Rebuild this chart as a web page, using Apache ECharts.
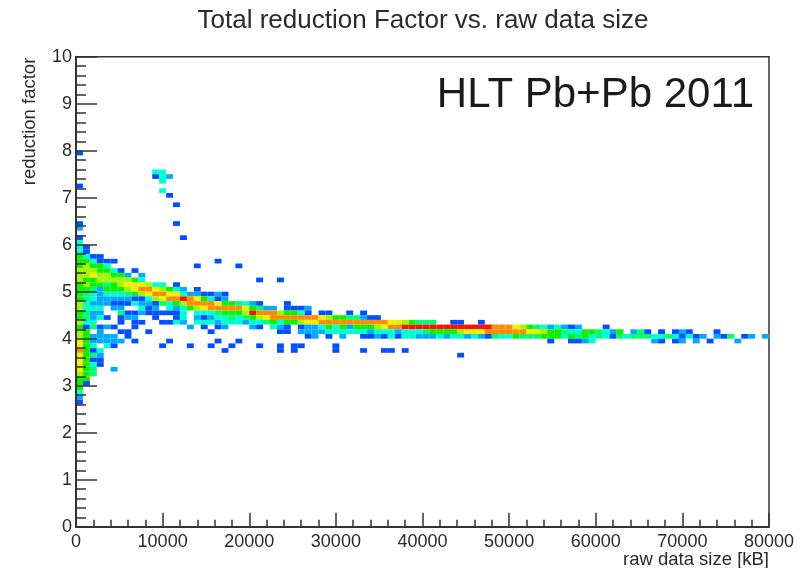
<!DOCTYPE html>
<html>
<head>
<meta charset="utf-8">
<style>
  html, body { margin: 0; background: #fff; }
  #chart { width: 811px; height: 568px; }
</style>
</head>
<body>
<div id="chart"></div>
<script src="https://cdn.jsdelivr.net/npm/echarts@6/dist/echarts.min.js"></script>
<script>
const chartTitle = 'Total reduction Factor vs. raw data size'
const runLabel = 'HLT Pb+Pb 2011'
const xName = 'raw data size [kB]'
const yName = 'reduction factor'

// histogram binning
const xBinWidth = 800
const yBinWidth = 0.1

// colour of each count class, low to high
const palette = ['#0050ff', '#00aaff', '#00ffd0', '#00ff70', '#10f000', '#a0f800', '#f0f000', '#ff8c00', '#ff1000']

// [y bin, first x bin, count classes ('.' = empty), next x bin, classes, ...]
const rows = [
  [79, 0, '1'],
  [75, 11, '33'],
  [74, 11, '132'],
  [73, 12, '3'],
  [72, 0, '1'],
  [71, 12, '3'],
  [70, 13, '1'],
  [68, 14, '1'],
  [64, 0, '1', 14, '1'],
  [63, 0, '2'],
  [61, 0, '1', 15, '1'],
  [60, 0, '3'],
  [59, 0, '31'],
  [58, 0, '31'],
  [57, 0, '5311'],
  [56, 0, '553111', 20, '1'],
  [55, 0, '56553', 17, '1', 23, '1'],
  [54, 0, '6665531.1'],
  [53, 0, '66766552.2'],
  [52, 0, '6556666653', 26, '1', 29, '1'],
  [51, 0, '5655456777633.1'],
  [50, 0, '5542555678876532.1'],
  [49, 0, '5432333456788773221121'],
  [48, 0, '5432222211367889875312'],
  [47, 0, '632221113221435688887554321', 30, '1'],
  [46, 0, '6333.22..312.3235678888875422.1112'],
  [45, 0, '5422..4112111113.33345556988865531.11..1.1'],
  [44, 0, '54231.122..1..13.212334345678888888765544211'],
  [43, 0, '633...1.11..1132.33323332334535567788888888887765444..11..1'],
  [42, 0, '514121..1.......2.1.12...21.321.12235352555678899999999999998887654323212', 76, '1'],
  [41, 0, '65.2', 6, '11', 10, '1', 19, '1', 29, '11', 32, '22223333332333233345555677788888877655433554325', 80, '241', 84, '1', 86, '121', 92, '1'],
  [40, 0, '652222.1', 33, '12.1.2..11213133222323323214335444555354534314344433431312.214.12.2'],
  [39, 0, '7522222.1', 13, '1', 20, '1', 23, '1', 68, '1', 71, '1123', 83, '21', 86, '12', 89, '2', 91, '1', 95, '2'],
  [38, 0, '753.31', 12, '1', 16, '1', 19, '1', 22, '1', 26, '1', 29, '1', 31, '11', 37, '1'],
  [37, 0, '8513', 21, '1', 29, '1', 31, '1', 37, '1', 41, '1', 44, '11', 47, '1'],
  [36, 0, '7542', 55, '1'],
  [35, 0, '7511'],
  [34, 0, '7531'],
  [33, 0, '754', 5, '2'],
  [32, 0, '654'],
  [31, 0, '55'],
  [30, 0, '51'],
  [29, 0, '5'],
  [28, 0, '3'],
  [27, 0, '2'],
  [26, 0, '1']
]

const cells = []
rows.forEach(row => {
  for (let k = 1; k < row.length; k += 2) {
    row[k + 1].split('').forEach((c, n) => {
      if (c !== '.') cells.push([(row[k] + n) * xBinWidth, row[0] * yBinWidth, Number(c)])
    })
  }
})

const font = '"Liberation Sans", Arial, sans-serif'
const ink = '#2a2a2a'

const myChart = echarts.init(document.getElementById('chart'), null, { renderer: 'canvas' })

myChart.setOption({
  animation: false,
  backgroundColor: '#fff',
  title: [
    {
      text: chartTitle,
      left: 418,
      top: 3,
      textAlign: 'center',
      textStyle: { fontFamily: font, fontSize: 26, fontWeight: 'normal', color: ink }
    },
    {
      text: runLabel,
      right: 52,
      top: 69,
      textStyle: { fontFamily: font, fontSize: 42, fontWeight: 'normal', color: '#1a1a1a' }
    }
  ],
  grid: {
    left: 76,
    right: 42,
    top: 56.7,
    bottom: 41.3,
    outerBoundsMode: 'none',
    show: true,
    borderColor: '#333',
    borderWidth: 1.5
  },
  xAxis: {
    type: 'value',
    min: 0,
    max: 80000,
    interval: 10000,
    z: 5,
    name: xName,
    nameLocation: 'end',
    nameGap: 0,
    nameTextStyle: {
      fontFamily: font,
      fontSize: 18.5,
      color: ink,
      align: 'right',
      verticalAlign: 'top',
      padding: [24, 0, 0, 0]
    },
    axisLine: { show: true, lineStyle: { color: '#333', width: 2 } },
    axisTick: { show: true, inside: true, length: 14, lineStyle: { color: '#333', width: 1.5 } },
    minorTick: { show: true, splitNumber: 5, length: 7, lineStyle: { color: '#333', width: 1.5 } },
    splitLine: { show: false },
    axisLabel: {
      fontFamily: font,
      fontSize: 18,
      color: ink,
      margin: 6,
      showMaxLabel: true,
      showMinLabel: true,
      hideOverlap: false,
      formatter: value => String(value)
    }
  },
  yAxis: {
    type: 'value',
    min: 0,
    max: 10,
    interval: 1,
    z: 5,
    name: yName,
    nameLocation: 'end',
    nameRotate: 90,
    nameGap: -1,
    nameTextStyle: {
      fontFamily: font,
      fontSize: 18.5,
      color: ink,
      align: 'right',
      verticalAlign: 'bottom',
      padding: [0, 0, 37, 0]
    },
    axisLine: { show: true, lineStyle: { color: '#333', width: 2 } },
    axisTick: { show: true, inside: true, length: 21, lineStyle: { color: '#333', width: 1.5 } },
    minorTick: { show: true, splitNumber: 5, length: 10, lineStyle: { color: '#333', width: 1.5 } },
    splitLine: { show: false },
    axisLabel: { fontFamily: font, fontSize: 18, color: ink, margin: 4 }
  },
  series: [
    {
      type: 'custom',
      coordinateSystem: 'cartesian2d',
      data: cells,
      encode: { x: 0, y: 1 },
      renderItem: (params, api) => {
        const corner = api.coord([api.value(0), api.value(1) + yBinWidth])
        const size = api.size([xBinWidth, yBinWidth])
        return {
          type: 'rect',
          shape: { x: corner[0], y: corner[1], width: size[0], height: size[1] },
          style: { fill: palette[api.value(2) - 1] }
        }
      }
    }
  ]
})
</script>
</body>
</html>
